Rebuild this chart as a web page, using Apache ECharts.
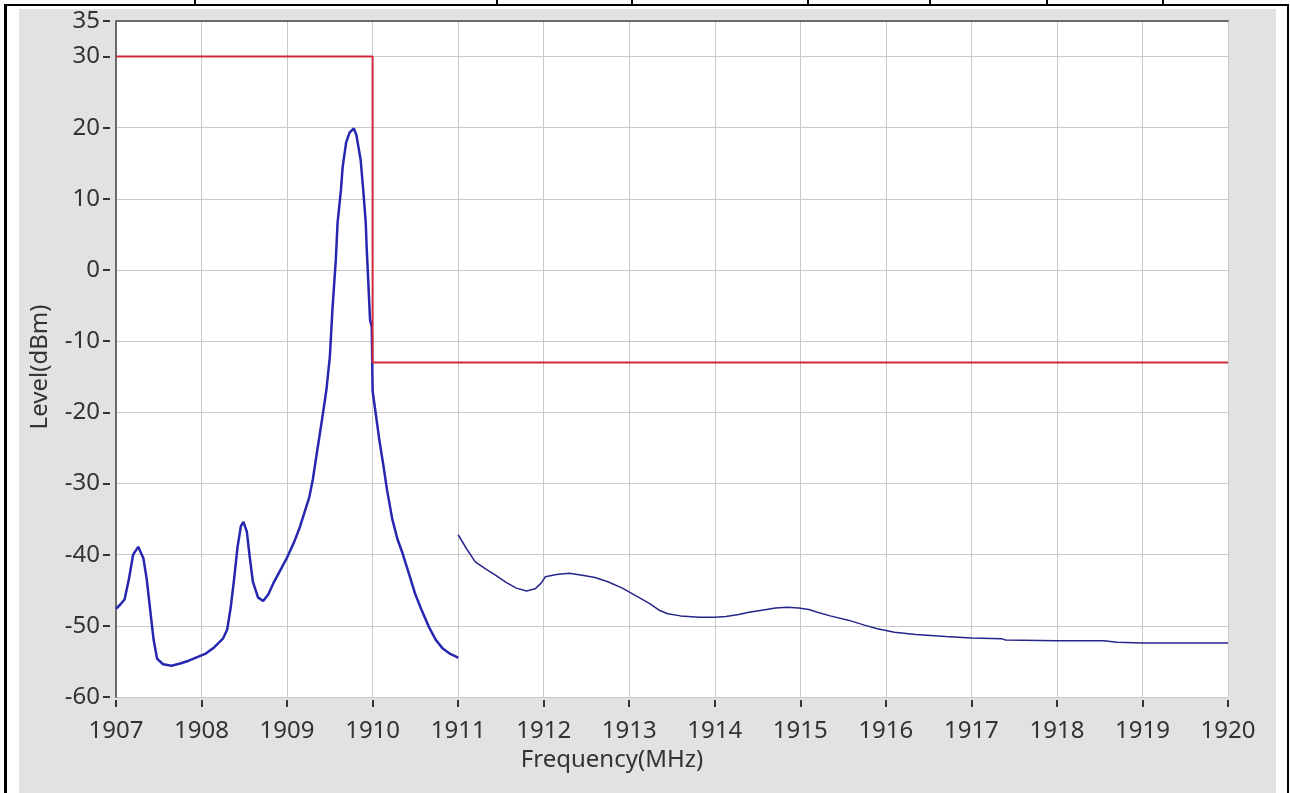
<!DOCTYPE html>
<html>
<head>
<meta charset="utf-8">
<title>Level vs Frequency</title>
<script src="https://cdn.jsdelivr.net/npm/echarts@6/dist/echarts.min.js"></script>
<style>
	html, body { margin: 0; padding: 0; background: #fff; }
	body { width: 1290px; height: 793px; position: relative; overflow: hidden; }
	.line { position: absolute; background: #000; }
	#main { position: absolute; left: 19px; top: 9px; width: 1257px; height: 784px; background: #e2e2e2; }
</style>
</head>
<body>
<!-- 表格外框 -->
<div class="line" style="left:4px;top:4px;width:3px;height:789px;"></div>
<div class="line" style="left:4px;top:4px;width:1285px;height:2px;"></div>
<div class="line" style="left:1287px;top:4px;width:2px;height:789px;"></div>
<div class="line" style="left:194px;top:0;width:2px;height:5px;"></div>
<div class="line" style="left:496px;top:0;width:2px;height:5px;"></div>
<div class="line" style="left:631px;top:0;width:2px;height:5px;"></div>
<div class="line" style="left:807px;top:0;width:2px;height:5px;"></div>
<div class="line" style="left:929px;top:0;width:2px;height:5px;"></div>
<div class="line" style="left:1046px;top:0;width:2px;height:5px;"></div>
<div class="line" style="left:1162px;top:0;width:2px;height:5px;"></div>
<div id="main"></div>
<script>
// 频谱曲线 1907-1911 MHz
var traceAFreq = [1907.00, 1907.05, 1907.10, 1907.15, 1907.20, 1907.26, 1907.32, 1907.36, 1907.40, 1907.44,
	1907.48, 1907.55, 1907.65, 1907.75, 1907.85, 1907.95, 1908.05, 1908.15, 1908.25, 1908.30,
	1908.34, 1908.38, 1908.42, 1908.46, 1908.49, 1908.53, 1908.56, 1908.60, 1908.66, 1908.72,
	1908.78, 1908.84, 1908.92, 1909.00, 1909.08, 1909.15, 1909.26, 1909.30, 1909.36, 1909.42,
	1909.46, 1909.50, 1909.53, 1909.57, 1909.59, 1909.63, 1909.65, 1909.69, 1909.73, 1909.78,
	1909.81, 1909.86, 1909.89, 1909.92, 1909.93, 1909.95, 1909.97, 1909.99, 1910.00, 1910.04,
	1910.08, 1910.12, 1910.17, 1910.23, 1910.29, 1910.35, 1910.42, 1910.50, 1910.58, 1910.66,
	1910.74, 1910.82, 1910.90, 1910.97, 1911.00];
var traceALevel = [-47.6, -47.0, -46.3, -43.5, -40.0, -38.9, -40.5, -43.5, -47.8, -52.0,
	-54.6, -55.4, -55.6, -55.3, -54.9, -54.4, -53.9, -53.0, -51.8, -50.5,
	-47.5, -43.5, -39.0, -36.0, -35.4, -36.8, -40.0, -43.8, -46.0, -46.5,
	-45.6, -44.0, -42.2, -40.4, -38.3, -36.1, -31.9, -29.5, -24.8, -20.1,
	-16.8, -12.2, -5.6, 1.5, 6.6, 11.3, 14.5, 17.9, 19.3, 19.9,
	19.0, 15.5, 11.3, 6.6, 3.3, -1.8, -7.0, -8.0, -17.0, -20.5,
	-24.0, -27.0, -31.0, -35.0, -37.8, -39.8, -42.5, -45.6, -48.0, -50.2,
	-52.0, -53.2, -53.9, -54.3, -54.5];

// 频谱曲线 1911-1920 MHz
var traceBFreq = [1911.00, 1911.10, 1911.20, 1911.32, 1911.44, 1911.56, 1911.68, 1911.80, 1911.90, 1911.97,
	1912.02, 1912.15, 1912.30, 1912.45, 1912.60, 1912.75, 1912.92, 1913.08, 1913.23, 1913.35,
	1913.45, 1913.60, 1913.82, 1914.00, 1914.13, 1914.28, 1914.40, 1914.55, 1914.71, 1914.85,
	1914.98, 1915.10, 1915.20, 1915.35, 1915.56, 1915.75, 1915.90, 1916.10, 1916.35, 1916.70,
	1917.00, 1917.35, 1917.40, 1918.00, 1918.55, 1918.70, 1919.00, 1919.50, 1920.00];
var traceBLevel = [-37.2, -39.2, -41.0, -42.0, -42.9, -43.9, -44.7, -45.1, -44.8, -44.0,
	-43.1, -42.8, -42.6, -42.9, -43.2, -43.8, -44.7, -45.8, -46.8, -47.8,
	-48.3, -48.6, -48.8, -48.8, -48.7, -48.4, -48.1, -47.8, -47.5, -47.4,
	-47.5, -47.7, -48.1, -48.6, -49.2, -49.9, -50.4, -50.9, -51.2, -51.5,
	-51.7, -51.8, -52.0, -52.1, -52.1, -52.3, -52.4, -52.4, -52.4];

// 限值线
var limitFreq = [1907, 1910, 1910, 1920];
var limitLevel = [30, 30, -13, -13];

// 坐标轴范围
var xMin = 1907, xMax = 1920, xStep = 1;
var yMin = -60, yMax = 35, yStep = 10;

function toPairs(xs, ys) {
	var out = [];
	for (var i = 0; i < xs.length; i++) {
		out.push([xs[i], ys[i]]);
	}
	return out;
}
// 不要千分位
function plainNum(v) {
	return String(v);
}

var FONT = '"Noto Sans", "Open Sans", sans-serif';
var gridColor = '#c9c9c9';
var labelColor = '#333';

var myChart = echarts.init(document.getElementById('main'));
var option = {
	animation: false,
	grid: {
		left: 97,
		top: 11,
		right: 48,
		bottom: 96,
		show: true,
		backgroundColor: '#fff',
		borderWidth: 0
	},
	xAxis: [{
		// 网格线
		type: 'value',
		min: xMin,
		max: xMax,
		interval: xStep,
		axisLine: { show: false, onZero: false },
		axisTick: { show: false },
		axisLabel: { show: false },
		splitLine: { show: true, lineStyle: { color: gridColor, width: 1 } }
	}, {
		// 刻度和标签
		type: 'value',
		position: 'bottom',
		offset: 3,
		min: xMin,
		max: xMax,
		interval: xStep,
		axisLine: { show: false, onZero: false },
		axisTick: { show: true, length: 7, lineStyle: { color: '#333', width: 2 } },
		axisLabel: { color: labelColor, fontSize: 24, fontFamily: FONT, margin: 19, formatter: plainNum },
		splitLine: { show: false },
		name: 'Frequency(MHz)',
		nameLocation: 'middle',
		nameGap: 42,
		nameTextStyle: { color: labelColor, fontSize: 24, fontFamily: FONT, padding: [0, 120, 0, 0] }
	}, {
		// 顶部边框
		type: 'value',
		position: 'top',
		min: xMin,
		max: xMax,
		axisLine: { show: true, onZero: false, lineStyle: { color: '#6a6a6a', width: 2 } },
		axisTick: { show: false },
		axisLabel: { show: false },
		splitLine: { show: false }
	}],
	yAxis: [{
		type: 'value',
		min: yMin,
		max: yMax,
		interval: yStep,
		axisLine: { show: true, onZero: false, lineStyle: { color: '#6a6a6a', width: 2 } },
		axisTick: { show: false },
		axisLabel: { show: false },
		splitLine: { show: true, lineStyle: { color: gridColor, width: 1 } }
	}, {
		type: 'value',
		position: 'left',
		offset: 6,
		min: yMin,
		max: yMax,
		interval: yStep,
		axisLine: { show: false, onZero: false },
		axisTick: { show: true, length: 7, lineStyle: { color: '#333', width: 2 } },
		axisLabel: { color: labelColor, fontSize: 24, fontFamily: FONT, margin: 10, formatter: plainNum },
		splitLine: { show: false },
		name: 'Level(dBm)',
		nameLocation: 'middle',
		nameRotate: 90,
		nameGap: 58,
		nameTextStyle: { color: labelColor, fontSize: 24, fontFamily: FONT, padding: [0, 16, 0, 0] }
	}],
	series: [{
		name: 'trace1',
		type: 'line',
		data: toPairs(traceAFreq, traceALevel),
		showSymbol: false,
		lineStyle: { color: '#2626b0', width: 2.5 },
		z: 3
	}, {
		name: 'trace2',
		type: 'line',
		data: toPairs(traceBFreq, traceBLevel),
		showSymbol: false,
		lineStyle: { color: '#26268a', width: 1.5 },
		z: 3
	}, {
		name: 'limit',
		type: 'line',
		data: toPairs(limitFreq, limitLevel),
		showSymbol: false,
		lineStyle: { color: '#cf2a3c', width: 2 },
		z: 4
	}]
};
myChart.setOption(option);
</script>
</body>
</html>
